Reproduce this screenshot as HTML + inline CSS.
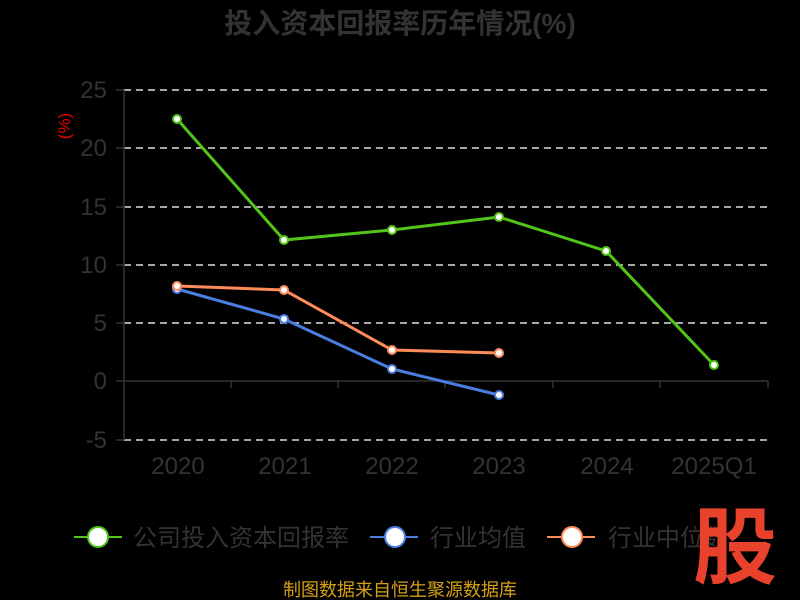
<!DOCTYPE html><html><head><meta charset="utf-8"><style>body{margin:0;background:#000}svg{display:block}text{font-family:"Liberation Sans","Noto Sans CJK SC",sans-serif}</style></head><body>
<svg width="800" height="600" viewBox="0 0 800 600">
<rect width="800" height="600" fill="#000"/>
<text x="400" y="33" text-anchor="middle" font-size="28" font-weight="bold" fill="#333">投入资本回报率历年情况(%)</text>
<text transform="translate(70,126) rotate(-90)" text-anchor="middle" font-size="17" fill="#e00">(%)</text>
<g stroke="#ddd" stroke-width="1.5" stroke-dasharray="7,5">
<line x1="124" y1="90" x2="768" y2="90"/><line x1="124" y1="148" x2="768" y2="148"/><line x1="124" y1="207" x2="768" y2="207"/><line x1="124" y1="265" x2="768" y2="265"/><line x1="124" y1="323" x2="768" y2="323"/><line x1="124" y1="440" x2="768" y2="440"/></g>
<g stroke="#333" stroke-width="1.5"><line x1="124" y1="90" x2="124" y2="440"/><line x1="116" y1="381" x2="768" y2="381"/>
<line x1="231" y1="381" x2="231" y2="388"/><line x1="338" y1="381" x2="338" y2="388"/><line x1="445" y1="381" x2="445" y2="388"/><line x1="553" y1="381" x2="553" y2="388"/><line x1="660" y1="381" x2="660" y2="388"/><line x1="768" y1="381" x2="768" y2="388"/>
<line x1="116" y1="90" x2="124" y2="90"/><line x1="116" y1="148" x2="124" y2="148"/><line x1="116" y1="207" x2="124" y2="207"/><line x1="116" y1="265" x2="124" y2="265"/><line x1="116" y1="323" x2="124" y2="323"/><line x1="116" y1="440" x2="124" y2="440"/></g>
<g font-size="24" fill="#333" text-anchor="end"><text x="107" y="98">25</text><text x="107" y="156">20</text><text x="107" y="215">15</text><text x="107" y="273">10</text><text x="107" y="331">5</text><text x="107" y="389">0</text><text x="107" y="448">-5</text></g>
<g font-size="24" fill="#333" text-anchor="middle"><text x="178" y="474">2020</text><text x="285" y="474">2021</text><text x="392" y="474">2022</text><text x="499" y="474">2023</text><text x="607" y="474">2024</text><text x="714" y="474">2025Q1</text></g>
<polyline fill="none" stroke="#52c41a" stroke-width="3" points="177,119 284,240 392,230 499,217 606,251 714,365"/>
<polyline fill="none" stroke="#4a7fe0" stroke-width="3" points="177,289 284,319 392,369 499,395"/>
<polyline fill="none" stroke="#ff8c5a" stroke-width="3" points="177,286 284,290 392,350 499,353"/>
<g fill="#fff" stroke-width="2">
<g stroke="#52c41a"><circle cx="177" cy="119" r="4"/><circle cx="284" cy="240" r="4"/><circle cx="392" cy="230" r="4"/><circle cx="499" cy="217" r="4"/><circle cx="606" cy="251" r="4"/><circle cx="714" cy="365" r="4"/></g>
<g stroke="#4a7fe0"><circle cx="177" cy="289" r="4"/><circle cx="284" cy="319" r="4"/><circle cx="392" cy="369" r="4"/><circle cx="499" cy="395" r="4"/></g>
<g stroke="#ff8c5a"><circle cx="177" cy="286" r="4"/><circle cx="284" cy="290" r="4"/><circle cx="392" cy="350" r="4"/><circle cx="499" cy="353" r="4"/></g>
</g>
<g stroke-width="2">
<line x1="74" y1="537" x2="122" y2="537" stroke="#52c41a"/><circle cx="98" cy="537" r="10" fill="#fff" stroke="#52c41a"/>
<line x1="370" y1="537" x2="418" y2="537" stroke="#4a7fe0"/><circle cx="395" cy="537" r="10" fill="#fff" stroke="#4a7fe0"/>
<line x1="547" y1="537" x2="595" y2="537" stroke="#ff8c5a"/><circle cx="572" cy="537" r="10" fill="#fff" stroke="#ff8c5a"/></g>
<g font-size="24" fill="#333"><text x="133" y="546">公司投入资本回报率</text><text x="430" y="546">行业均值</text><text x="608" y="546">行业中位数</text></g>
<text x="735" y="577" text-anchor="middle" font-size="84" font-weight="bold" fill="#e8412c">股</text>
<text x="400" y="596" text-anchor="middle" font-size="18" fill="#d4a017">制图数据来自恒生聚源数据库</text>
</svg></body></html>
